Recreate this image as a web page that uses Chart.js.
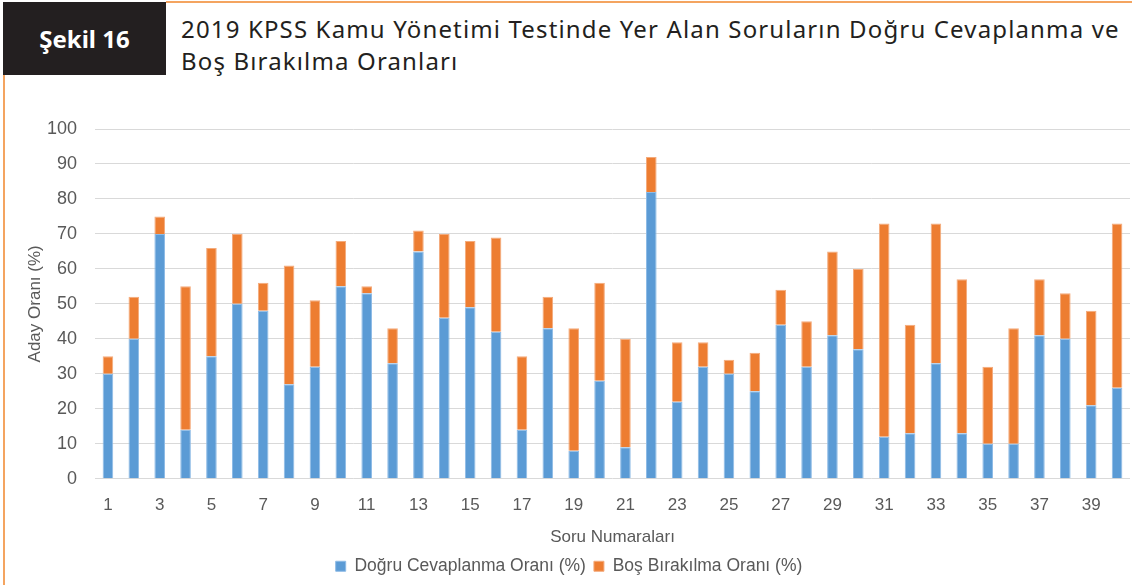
<!DOCTYPE html>
<html>
<head>
<meta charset="utf-8">
<script src="https://cdn.jsdelivr.net/npm/chart.js@4/dist/chart.umd.min.js"></script>
<style>
  body { margin: 0; background: #fff; width: 1132px; height: 585px; overflow: hidden; position: relative; }
  .kutu { position: absolute; left: 3px; top: 2px; width: 163px; height: 73px; background: #231f20; color: #fff;
          font: bold 24px "Noto Sans", sans-serif; display: flex; align-items: center; justify-content: center; }
  .ust { position: absolute; left: 166px; top: 1px; right: 0; height: 2px; background: #f4a460; }
  .sol { position: absolute; left: 3px; top: 75px; width: 2px; bottom: 0; background: #f4a460; }
  .baslik { position: absolute; left: 181px; top: 13px; font: 24px "Noto Sans", sans-serif; letter-spacing: 1.15px;
            color: #231f20; line-height: 32px; }
  #kap { position: absolute; left: 8px; top: 100px; width: 1124px; height: 485px; }
</style>
</head>
<body>
<div class="ust"></div>
<div class="sol"></div>
<div class="kutu">Şekil 16</div>
<div class="baslik">2019 KPSS Kamu Yönetimi Testinde Yer Alan Soruların Doğru Cevaplanma ve<br>Boş Bırakılma Oranları</div>
<div id="kap"><canvas id="grafik"></canvas></div>
<script>
// soru numaralari
const sorular = [];
for (let i = 1; i <= 40; i++) sorular.push(String(i));

// dogru cevaplanma orani (%)
const dogru = [30, 40, 70, 14, 35, 50, 48, 27, 32, 55, 53, 33, 65, 46, 49, 42, 14, 43, 8, 28,
               9, 82, 22, 32, 30, 25, 44, 32, 41, 37, 12, 13, 33, 13, 10, 10, 41, 40, 21, 26];
// bos birakilma orani (%)
const bos = [5, 12, 5, 41, 31, 20, 8, 34, 19, 13, 2, 10, 6, 24, 19, 27, 21, 9, 35, 28,
             31, 10, 17, 7, 4, 11, 10, 13, 24, 23, 61, 31, 40, 44, 22, 33, 16, 13, 27, 47];

const yTikler = [0, 10, 20, 30, 40, 50, 60, 70, 80, 90, 100];

const gri = '#595959';
const yazi = "'Liberation Sans', sans-serif";

new Chart(document.getElementById('grafik'), {
  type: 'bar',
  data: {
    labels: sorular,
    datasets: [
      { label: 'Doğru Cevaplanma Oranı (%)', data: dogru, backgroundColor: '#5b9bd5',
        borderColor: '#8dbbe6', borderWidth: 1, barPercentage: 0.41, categoryPercentage: 1 },
      { label: 'Boş Bırakılma Oranı (%)', data: bos, backgroundColor: '#ed7d31',
        borderColor: '#f4ab7c', borderWidth: 1, barPercentage: 0.41, categoryPercentage: 1 }
    ]
  },
  options: {
    responsive: true,
    maintainAspectRatio: false,
    animation: false,
    layout: { padding: { left: 0, right: 2, top: 29, bottom: 0 } },
    plugins: {
      tooltip: { enabled: false },
      legend: {
        position: 'bottom',
        labels: { color: gri, font: { family: yazi, size: 17.5 }, boxWidth: 10, boxHeight: 10, padding: 8 }
      }
    },
    scales: {
      x: {
        stacked: true,
        grid: { display: false },
        border: { display: false },
        ticks: {
          color: gri, font: { family: yazi, size: 17 }, autoSkip: false, maxRotation: 0, padding: 8,
          callback: function (v, i) { return i % 2 === 0 ? sorular[i] : ''; }
        },
        title: { display: true, text: 'Soru Numaraları', color: gri, font: { family: yazi, size: 17 }, padding: { top: 4, bottom: 2 } }
      },
      y: {
        stacked: true,
        min: 0, max: 100,
        afterBuildTicks: function (ax) { ax.ticks = yTikler.map(v => ({ value: v })); },
        afterFit: function (ax) { ax.width = 87; },
        grid: { color: '#d9d9d9', lineWidth: 1, drawTicks: false },
        border: { display: false },
        ticks: { color: gri, font: { family: yazi, size: 18 }, padding: 18 },
        title: { display: true, text: 'Aday Oranı (%)', color: gri, font: { family: yazi, size: 17 }, padding: { top: 17, bottom: 0 } }
      }
    }
  }
});
</script>
</body>
</html>
